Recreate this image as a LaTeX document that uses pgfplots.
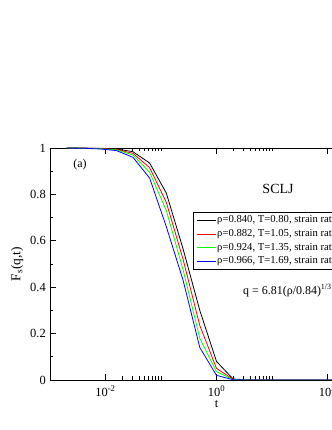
\documentclass[border=0pt]{standalone}
\usepackage{pgfplots}
\pgfplotsset{compat=1.18}
\usepackage{fontspec}
\setmainfont{Liberation Serif}
\definecolor{gblack}{RGB}{0,0,0}
\definecolor{gred}{RGB}{255,0,0}
\definecolor{ggreen}{RGB}{0,255,0}
\definecolor{gblue}{RGB}{0,0,255}
\pgfplotstableread{
t        F
0.002    1.0
0.00390625 0.9995
0.0078125  0.999
0.015625   0.996
0.03125    0.984
0.0625     0.935
0.125      0.805
0.25       0.565
0.5        0.30
1          0.08
2          0.004
4          0.0005
8          0.0
1000       0.0
}\tblack
\pgfplotstableread{
t        F
0.002    1.0
0.00390625 0.9995
0.0078125  0.998
0.015625   0.994
0.03125    0.977
0.0625     0.915
0.125      0.765
0.25       0.52
0.5        0.235
1          0.05
2          0.003
4          0.0003
8          0.0
1000       0.0
}\tred
\pgfplotstableread{
t        F
0.002    1.0
0.00390625 0.9993
0.0078125  0.997
0.015625   0.992
0.03125    0.970
0.0625     0.895
0.125      0.73
0.25       0.475
0.5        0.18
1          0.036
2          0.002
4          0.0002
8          0.0
1000       0.0
}\tgreen
\pgfplotstableread{
t        F
0.002    1.0
0.00390625 0.999
0.0078125  0.996
0.015625   0.989
0.03125    0.960
0.0625     0.870
0.125      0.66
0.25       0.43
0.5        0.14
1          0.02
2          0.001
4          0.0001
8          0.0
1000       0.0
}\tblue
\begin{document}
\begin{tikzpicture}[x=1bp,y=1bp]
\begin{axis}[
  at={(50bp,50bp)}, anchor=south west,
  scale only axis, width=333bp, height=232bp,
  xmode=log, xmin=0.001, xmax=1000, ymin=0, ymax=1,
  xtick={0.01,1,100},
  xticklabels={10\textsuperscript{-2},10\textsuperscript{0},10\textsuperscript{2}},
  minor xtick={0.02,0.03,0.04,0.05,0.06,0.07,0.08,0.09,0.1,2,3,4,5,6,7,8,9,10,200,300,400,500,600,700,800,900,1000},
  ytick={0,0.2,0.4,0.6,0.8,1},
  yticklabels={0,0.2,0.4,0.6,0.8,1},
  minor ytick={0.1,0.3,0.5,0.7,0.9},
  tick align=inside,
  major tick length=6bp, minor tick length=3.5bp,
  every tick/.style={black, line width=0.8bp},
  axis line style={line width=0.8bp},
  tick label style={font=\fontsize{12.5}{14}\selectfont},
  xticklabel style={inner sep=0pt, anchor=base, yshift=-16bp},
  yticklabel style={inner sep=0pt, anchor=east, xshift=-4bp},
  xlabel={t},
  xlabel style={font=\fontsize{12.5}{14}\selectfont, inner sep=0pt, anchor=base, at={(axis description cs:0.5,-0.12)}},
  ylabel={F\textsubscript{s}(q,t)},
  ylabel style={font=\fontsize{13.5}{15}\selectfont, inner sep=0pt, anchor=south, at={(axis description cs:-0.08,0.5)}},
  legend style={at={(axis description cs:0.4294,0.7241)}, anchor=north west,
    draw=black, line width=0.8bp, font=\fontsize{10.7}{12}\selectfont,
    inner xsep=3bp, inner ysep=1bp, row sep=0pt,
    nodes={inner xsep=1bp, inner ysep=1.35bp, text height=8bp, text depth=3bp}},
  legend cell align=left,
  legend image code/.code={\draw[#1, line width=0.8bp] (0bp,0bp) -- (14bp,0bp); \path (0bp,0bp) -- (19bp,0bp);},
]
\addplot[gblack, line width=0.8bp] table[x=t,y=F] {\tblack};
\addlegendentry{ρ=0.840, T=0.80, strain rate}
\addplot[gred, line width=0.8bp] table[x=t,y=F] {\tred};
\addlegendentry{ρ=0.882, T=1.05, strain rate}
\addplot[ggreen, line width=0.8bp] table[x=t,y=F] {\tgreen};
\addlegendentry{ρ=0.924, T=1.35, strain rate}
\addplot[gblue, line width=0.8bp] table[x=t,y=F] {\tblue};
\addlegendentry{ρ=0.966, T=1.69, strain rate}
\end{axis}
\node[font=\fontsize{12}{14}\selectfont, inner sep=0pt] at (80,265) {(a)};
\node[font=\fontsize{14}{16}\selectfont, inner sep=0pt] at (278,241) {SCLJ};
\node[font=\fontsize{12}{14}\selectfont, inner sep=0pt, anchor=base west] at (243,136) {q = 6.81(ρ/0.84)\textsuperscript{1/3}};
\pgfresetboundingbox
\useasboundingbox (0,0) rectangle (332,430);
\end{tikzpicture}
\end{document}
